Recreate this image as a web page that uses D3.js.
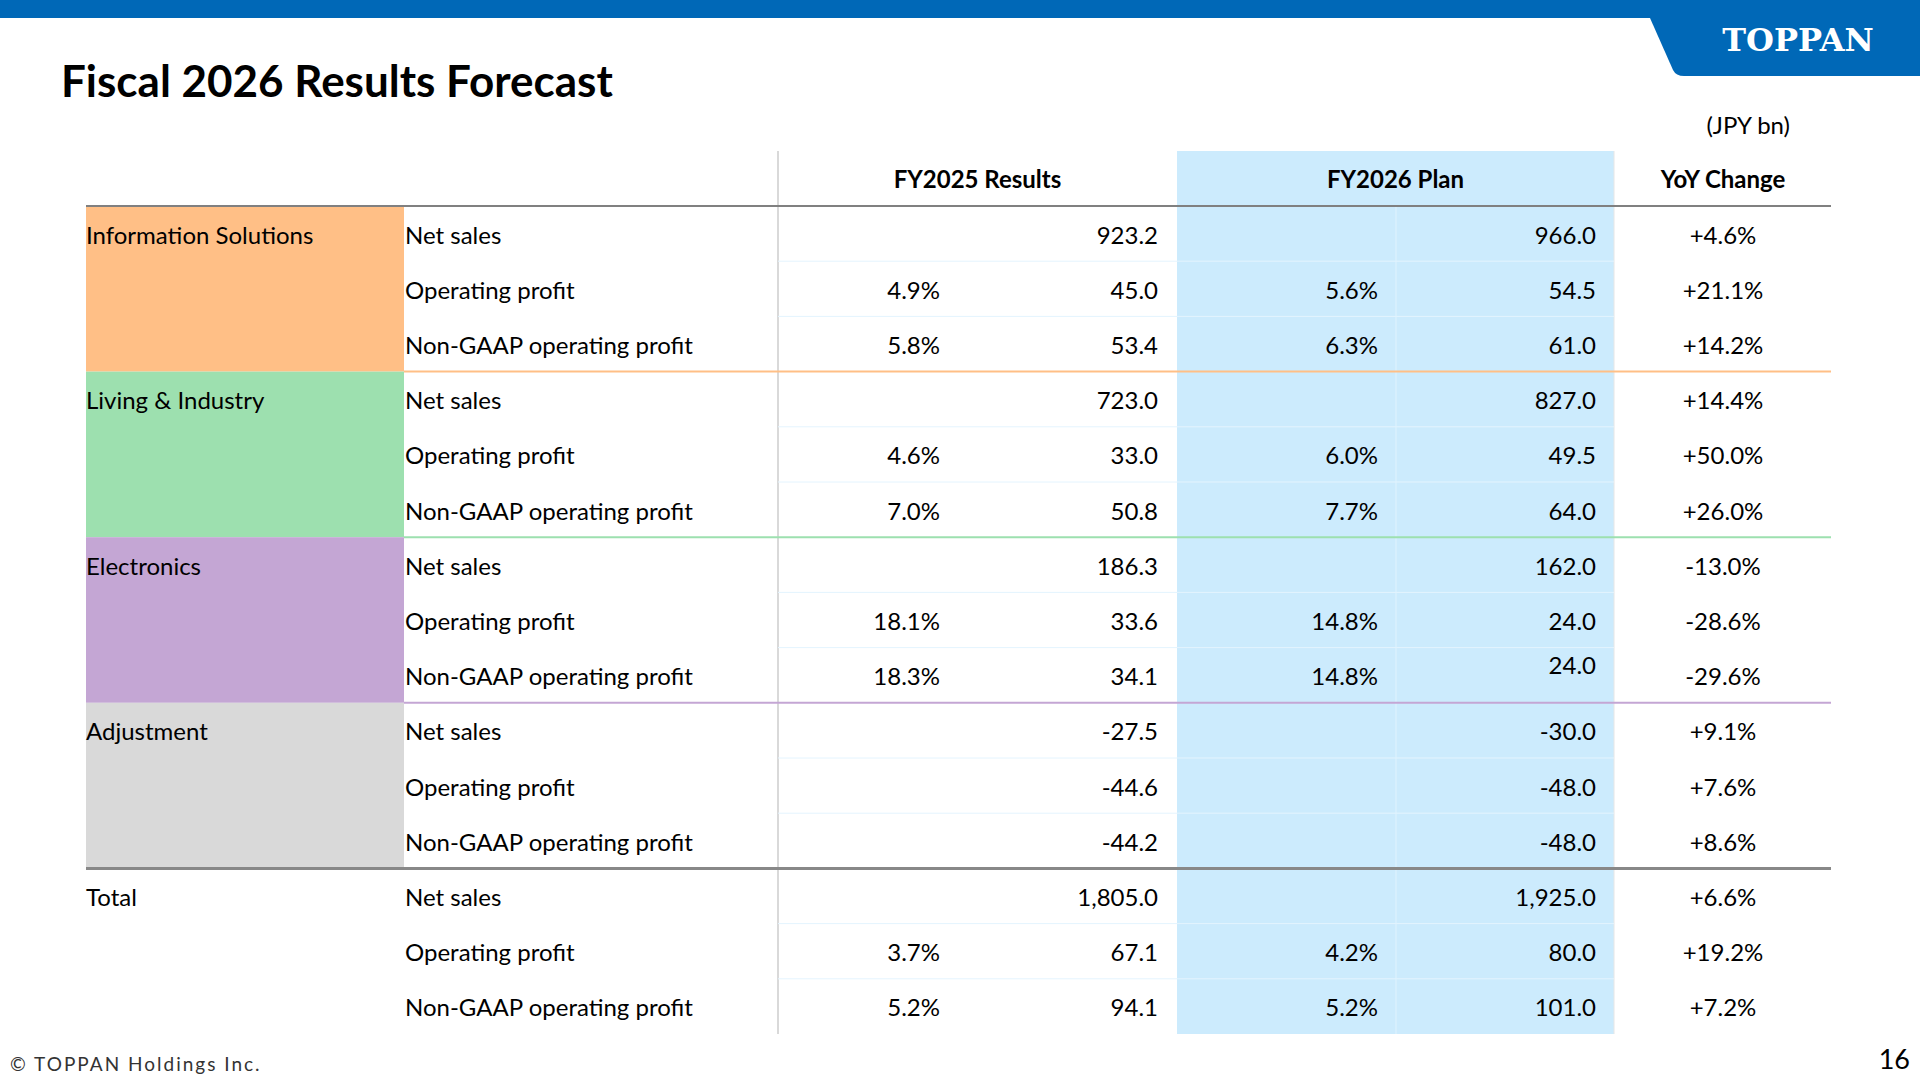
<!DOCTYPE html>
<html><head><meta charset="utf-8">
<script src="https://cdn.jsdelivr.net/npm/d3@7"></script>
<style>body{margin:0;background:#fff}svg{display:block}text{font-family:Lato,"Noto Sans",sans-serif;fill:#000}</style>
</head><body><svg width="1920" height="1080"></svg>
<script>
// table values
const segments = ["Information Solutions", "Living & Industry", "Electronics", "Adjustment", "Total"];
const segColors = ["#FFBF86", "#9DE0AF", "#C4A6D4", "#D9D9D9", null];
const lineColors = ["#FFBF86", "#9DE0AF", "#C4A6D4", "#888888"];
const items = ["Net sales", "Operating profit", "Non-GAAP operating profit"];
const pct2025 = [null,"4.9%","5.8%", null,"4.6%","7.0%", null,"18.1%","18.3%", null,null,null, null,"3.7%","5.2%"];
const val2025 = ["923.2","45.0","53.4","723.0","33.0","50.8","186.3","33.6","34.1","-27.5","-44.6","-44.2","1,805.0","67.1","94.1"];
const pct2026 = [null,"5.6%","6.3%", null,"6.0%","7.7%", null,"14.8%","14.8%", null,null,null, null,"4.2%","5.2%"];
const val2026 = ["966.0","54.5","61.0","827.0","49.5","64.0","162.0","24.0","24.0","-30.0","-48.0","-48.0","1,925.0","80.0","101.0"];
const yoy = ["+4.6%","+21.1%","+14.2%","+14.4%","+50.0%","+26.0%","-13.0%","-28.6%","-29.6%","+9.1%","+7.6%","+8.6%","+6.6%","+19.2%","+7.2%"];
const headers = ["FY2025 Results", "FY2026 Plan", "YoY Change"];

const svg = d3.select("svg");
const blue = "#0068B7";

svg.append("rect").attr("x", 0).attr("y", 0).attr("width", 1920).attr("height", 18).attr("fill", blue);
svg.append("path").attr("d", "M1650,18 L1920,18 L1920,76 L1684,76 Q1676,76 1673,70 Z").attr("fill", blue);
svg.append("text").attr("x", 1798).attr("y", 51).attr("text-anchor", "middle")
  .style("font-family", "'DejaVu Serif',serif").style("font-weight", "bold").style("font-size", "32px")
  .style("fill", "#fff").text("TOPPAN");

svg.append("text").attr("x", 61).attr("y", 97).style("font-size", "44px").style("font-weight", "bold")
  .text("Fiscal 2026 Results Forecast");
svg.append("text").attr("x", 1790).attr("y", 134).attr("text-anchor", "end").style("font-size", "24px").text("(JPY bn)");

const rows = d3.range(items.length * segments.length);
const y = d3.scaleBand().domain(rows).range([206, 1034]);
const rh = y.bandwidth();
const x = { left: 86, item: 404, c25: 778, p25: 940, v25: 1158, c26: 1177, p26: 1378, v26: 1596, yoyL: 1614, yoy: 1723, right: 1831 };

// blue plan column
svg.append("rect").attr("x", x.c26).attr("y", 151).attr("width", x.yoyL - x.c26).attr("height", 1034 - 151).attr("fill", "#CCEBFD");

// segment blocks
segments.forEach((s, i) => {
  const top = y(i * 3);
  if (segColors[i]) svg.append("rect").attr("x", x.left).attr("y", top).attr("width", x.item - x.left)
    .attr("height", rh * 3).attr("fill", segColors[i]);
  svg.append("text").attr("x", x.left).attr("y", top + rh / 2 + 10).style("font-size", "24px").text(s);
});

// faint cell grid
svg.append("line").attr("x1", x.c25).attr("x2", x.c25).attr("y1", 151).attr("y2", 1034).attr("stroke", "#d9d9d9").attr("stroke-width", 2);
svg.append("line").attr("x1", x.yoyL).attr("x2", x.yoyL).attr("y1", 151).attr("y2", 1034).attr("stroke", "#e6e6e6").attr("stroke-width", 1);
rows.forEach(r => {
  if (r % 3 === 0) return;
  svg.append("line").attr("x1", x.c25).attr("x2", x.yoyL).attr("y1", y(r)).attr("y2", y(r)).attr("stroke", "#e4f4fe").attr("stroke-width", 1);
});
svg.append("line").attr("x1", x.p26 + 18).attr("x2", x.p26 + 18).attr("y1", 206).attr("y2", 1034).attr("stroke", "#e0f3fe").attr("stroke-width", 1);

// headers
const hx = [(x.c25 + x.c26) / 2, (x.c26 + x.yoyL) / 2, x.yoy];
headers.forEach((h, i) => svg.append("text").attr("x", hx[i]).attr("y", 188).attr("text-anchor", "middle")
  .style("font-size", "24px").style("font-weight", "bold").text(h));
svg.append("line").attr("x1", x.left).attr("x2", x.right).attr("y1", 206).attr("y2", 206).attr("stroke", "#808080").attr("stroke-width", 2);

// segment separator lines
lineColors.forEach((c, i) => {
  const yy = y(i * 3 + 3);
  svg.append("line").attr("x1", i === 3 ? x.left : x.item).attr("x2", x.right).attr("y1", yy).attr("y2", yy)
    .attr("stroke", c).attr("stroke-width", i === 3 ? 3 : 2);
});

// cells
const cell = (tx, anchor, txt, r, dy) => {
  if (!txt) return;
  svg.append("text").attr("x", tx).attr("y", y(r) + rh / 2 + 10 + (dy || 0)).attr("text-anchor", anchor)
    .style("font-size", "24px").text(txt);
};
rows.forEach(r => {
  cell(x.item + 1, "start", items[r % 3], r);
  cell(x.p25, "end", pct2025[r], r);
  cell(x.v25, "end", val2025[r], r);
  cell(x.p26, "end", pct2026[r], r);
  cell(x.v26, "end", val2026[r], r, r === 8 ? -11 : 0);
  cell(x.yoy, "middle", yoy[r], r);
});

svg.append("text").attr("x", 10).attr("y", 1071).style("font-size", "19px").style("letter-spacing", "2px")
  .style("fill", "#333").text("© TOPPAN Holdings Inc.");
svg.append("text").attr("x", 1910).attr("y", 1069).attr("text-anchor", "end").style("font-size", "27px").text("16");
</script></body></html>
